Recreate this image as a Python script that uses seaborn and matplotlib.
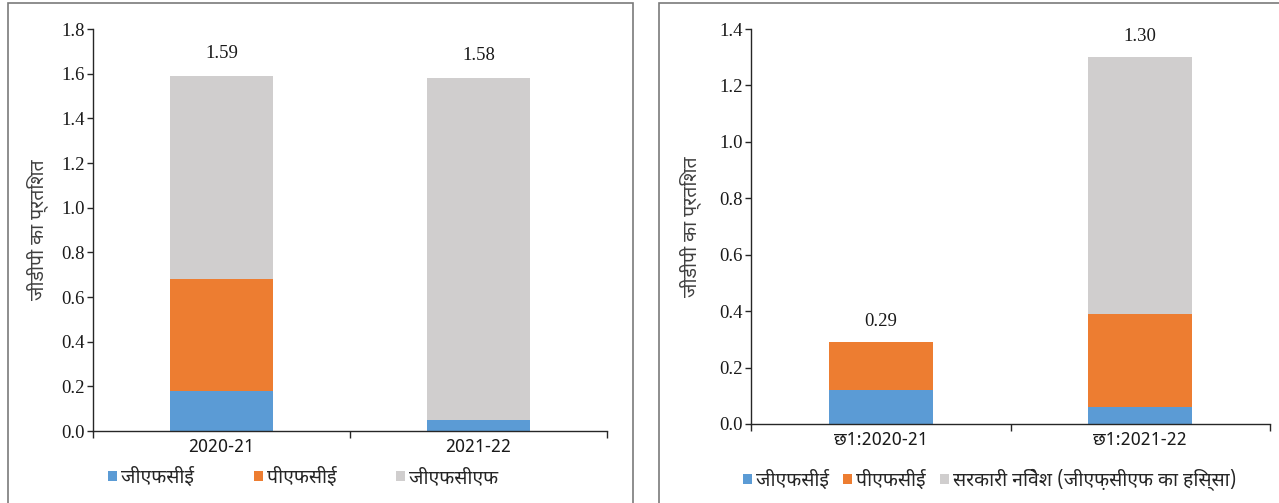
import matplotlib
matplotlib.use("Agg")
import numpy as np
import pandas as pd
import matplotlib.pyplot as plt
from matplotlib import font_manager
from matplotlib.patches import Rectangle, Patch
import seaborn as sns

# ---- data -------------------------------------------------------------
years_annual = ["2020-21", "2021-22"]
gfce_annual = [0.18, 0.05]
pfce_annual = [0.50, 0.00]
gfcf_annual = [0.91, 1.53]

years_half = ["छ1:2020-21", "छ1:2021-22"]
gfce_half = [0.12, 0.06]
pfce_half = [0.17, 0.33]
govinv_half = [0.00, 0.91]

names_annual = ["जीएफसीई", "पीएफसीई", "जीएफसीएफ"]
names_half = ["जीएफसीई", "पीएफसीई", "सरकारी निवेश (जीएफ़सीएफ का हिस्सा)"]
y_title = "जीडीपी का प्रतिशत"
yticks_annual = [0.0, 0.2, 0.4, 0.6, 0.8, 1.0, 1.2, 1.4, 1.6, 1.8]
yticks_half = [0.0, 0.2, 0.4, 0.6, 0.8, 1.0, 1.2, 1.4]

BLUE, ORANGE, GRAY = "#5B9BD5", "#ED7D31", "#D0CECE"


# ---- fonts --------------------------------------------------------------
def devanagari_family():
    from matplotlib.ft2font import FT2Font
    for path in font_manager.findSystemFonts():
        try:
            font_manager.fontManager.addfont(path)
        except Exception:
            pass
    found = {}
    for entry in font_manager.fontManager.ttflist:
        try:
            cmap = FT2Font(entry.fname).get_charmap()
        except Exception:
            continue
        if 0x091C in cmap and 0x0940 in cmap and 0x091B in cmap:
            found.setdefault(entry.name, entry.fname)
    for pref in ["Noto Sans Devanagari", "Noto Sans", "Lohit Devanagari",
                 "FreeSans", "Mukta", "Hind", "Noto Serif Devanagari"]:
        if pref in found:
            return pref
    return next(iter(found), "DejaVu Sans")


sns.set_theme(style="ticks")
DEVA = devanagari_family()
deva_fam = [DEVA, "DejaVu Sans"]
num_fam = ["Liberation Serif", "DejaVu Serif"]
plt.rcParams["font.family"] = deva_fam

W, H = 1279, 503
fig = plt.figure(figsize=(W / 100, H / 100), dpi=100)
fig.patch.set_facecolor("white")

# panel frames
fig.add_artist(Rectangle((8 / W, -0.02), 625 / W, 1.02 - 3 / H,
                         transform=fig.transFigure, fill=False,
                         edgecolor="#7a7a7a", linewidth=1.2))
fig.add_artist(Rectangle((659 / W, -0.02), 0.5, 1.02 - 3 / H,
                         transform=fig.transFigure, fill=False,
                         edgecolor="#7a7a7a", linewidth=1.2))


def px_axes(x0, x1, ytop, ybot):
    return fig.add_axes([x0 / W, 1 - ybot / H, (x1 - x0) / W, (ybot - ytop) / H])


def stacked_panel(ax, cats, blue, orange, gray, names, yticks, label_px,
                  ylab_x, leg_xy, colspace):
    df = pd.DataFrame({"cat": cats, "blue": blue, "orange": orange, "gray": gray})
    df["c1"] = df["blue"]
    df["c2"] = df["blue"] + df["orange"]
    df["c3"] = (df["c2"] + df["gray"]).round(2)
    for col, color in [("c3", GRAY), ("c2", ORANGE), ("c1", BLUE)]:
        sns.barplot(data=df, x="cat", y=col, color=color, width=0.4,
                    saturation=1, linewidth=0, ax=ax)
    for i, tot in enumerate(df["c3"]):
        ax.annotate(f"{tot:.2f}", (i, tot), xytext=(0, label_px),
                    textcoords="offset pixels", ha="center", va="bottom",
                    fontsize=13.5, family=num_fam, color="#1a1a1a")

    ax.set_xlim(-0.5, 1.5)
    ax.set_ylim(0, yticks[-1])
    ax.set_yticks(yticks)
    ax.set_yticklabels([f"{v:.1f}" for v in yticks], family=num_fam,
                       fontsize=13.5, color="#1a1a1a")
    ax.set_xticks(range(len(cats)))
    ax.set_xticklabels(cats, fontsize=13, color="#1a1a1a", family=deva_fam)
    ax.set_xticks([-0.5, 0.5, 1.5], minor=True)
    ax.tick_params(axis="x", which="major", length=0, pad=5)
    ax.tick_params(axis="x", which="minor", length=5, width=1, color="#262626")
    ax.tick_params(axis="y", length=4, width=1, color="#262626", pad=2)
    ax.set_xlabel("")
    ax.set_ylabel(y_title, fontsize=14, color="#404040", family=deva_fam)
    ax.yaxis.set_label_coords(ylab_x, 0.5)
    for s in ["top", "right"]:
        ax.spines[s].set_visible(False)
    for s in ["left", "bottom"]:
        ax.spines[s].set_color("#262626")
        ax.spines[s].set_linewidth(1)
    ax.set_facecolor("none")

    handles = [Patch(facecolor=c, edgecolor="none") for c in (BLUE, ORANGE, GRAY)]
    fig.legend(handles, names, loc="center left",
               bbox_to_anchor=(leg_xy[0] / W, 1 - leg_xy[1] / H),
               bbox_transform=fig.transFigure, ncol=3, frameon=False,
               handlelength=0.45, handleheight=0.45,
               handletextpad=0.2, columnspacing=colspace,
               borderpad=0, borderaxespad=0,
               prop={"family": deva_fam, "size": 14})


ax1 = px_axes(93, 607, 29, 431)
stacked_panel(ax1, years_annual, gfce_annual, pfce_annual, gfcf_annual,
              names_annual, yticks_annual, 14, -0.087, (108, 478), 3.1)

ax2 = px_axes(751, 1270, 29, 424)
stacked_panel(ax2, years_half, gfce_half, pfce_half, govinv_half,
              names_half, yticks_half, 12, -0.097, (743, 480), 0.75)

fig.savefig("out.png", dpi=100, facecolor="white")
